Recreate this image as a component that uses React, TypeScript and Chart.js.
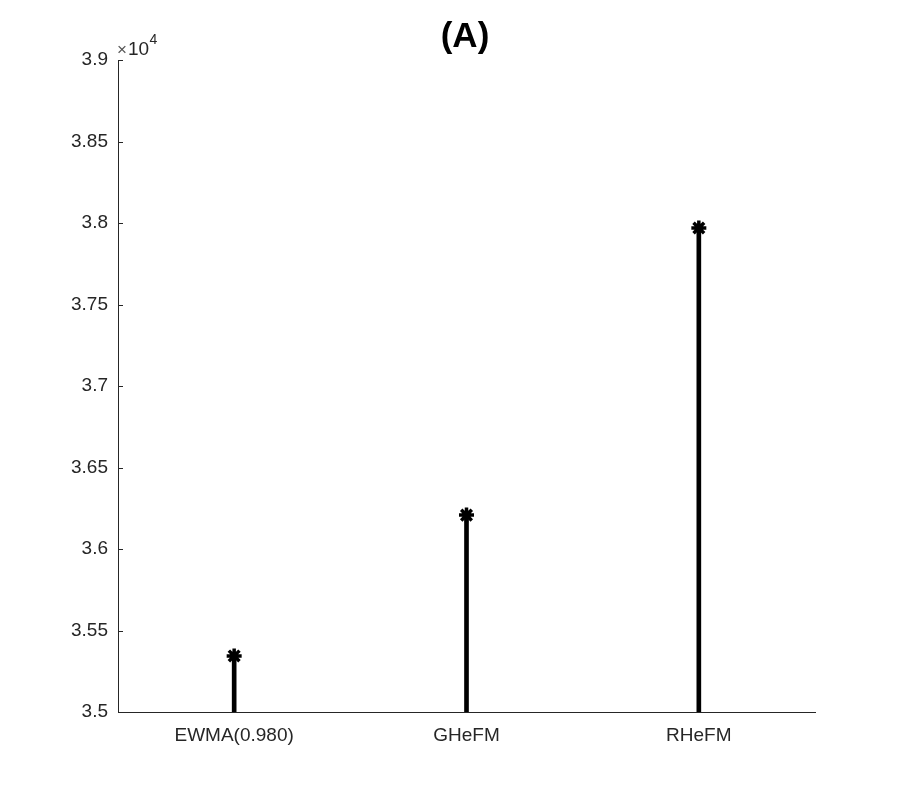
import React, { useEffect, useRef } from "react";
import { Chart, registerables } from "chart.js";

Chart.register(...registerables);

const categories = ["EWMA(0.980)", "GHeFM", "RHeFM"];
const positions = [1, 2, 3];
const values = [35344, 36208, 37969];
const yTicks = [35000, 35500, 36000, 36500, 37000, 37500, 38000, 38500, 39000];
const baseValue = 35000;
const titleText = "(A)";

const FONT = "'Liberation Sans', Arial, Helvetica, sans-serif";
const INK = "#262626";

export default function App() {
  const ref = useRef<HTMLCanvasElement | null>(null);

  useEffect(() => {
    const canvas = ref.current;
    if (!canvas) return;

    const overlay = {
      id: "matlabExtras",
      afterDraw(chart: any) {
        const ctx = chart.ctx;
        const area = chart.chartArea;
        const ys = chart.scales.y;
        ctx.save();
        // inward y ticks
        ctx.strokeStyle = INK;
        ctx.lineWidth = 1;
        ys.ticks.forEach((t: any) => {
          const py = Math.round(ys.getPixelForValue(t.value)) + 0.5;
          ctx.beginPath();
          ctx.moveTo(area.left, py);
          ctx.lineTo(area.left + 5, py);
          ctx.stroke();
        });
        // exponent label
        ctx.textBaseline = "alphabetic";
        ctx.textAlign = "left";
        let x = area.left - 1;
        ctx.font = `17px ${FONT}`;
        ctx.fillStyle = "#555";
        ctx.fillText("\u00d7", x, area.top - 5);
        x += ctx.measureText("\u00d7").width + 1;
        ctx.fillStyle = INK;
        ctx.font = `19px ${FONT}`;
        ctx.fillText("10", x, area.top - 5);
        x += ctx.measureText("10").width + 0.5;
        ctx.font = `14px ${FONT}`;
        ctx.fillText("4", x, area.top - 16);
        // title
        ctx.fillStyle = "#000";
        ctx.font = `bold 35px ${FONT}`;
        ctx.textAlign = "center";
        ctx.fillText(titleText, 465, 47);
        ctx.restore();
      },
    };

    const chart = new Chart(canvas, {
      type: "bar",
      data: {
        datasets: [
          {
            type: "bar",
            data: positions.map((p, i) => ({ x: p, y: [baseValue, values[i]] })) as any,
            backgroundColor: "#000",
            borderWidth: 0,
            barThickness: 4,
            grouped: false,
          } as any,
          {
            type: "scatter",
            data: positions.map((p, i) => ({ x: p, y: values[i] })),
            pointStyle: "star",
            radius: 7.5,
            borderWidth: 3.5,
            borderColor: "#000",
            backgroundColor: "#000",
          } as any,
        ],
      },
      plugins: [overlay],
      options: {
        animation: false,
        responsive: false,
        devicePixelRatio: 1,
        layout: { padding: { top: 60, right: 85, left: 0, bottom: 0 } },
        plugins: {
          legend: { display: false },
          tooltip: { enabled: false },
          title: { display: false },
        },
        scales: {
          x: {
            type: "linear",
            min: 0.5,
            max: 3.5,
            offset: false,
            grid: { display: false },
            border: { display: true, color: INK, width: 1 },
            afterBuildTicks: (s: any) => {
              s.ticks = positions.map((v) => ({ value: v }));
            },
            afterFit: (s: any) => {
              s.height = 88;
            },
            ticks: {
              color: INK,
              font: { size: 19, family: FONT },
              padding: 4,
              maxRotation: 0,
              autoSkip: false,
              callback: (v: any) => {
                const i = positions.indexOf(Number(v));
                return i >= 0 ? categories[i] : "";
              },
            },
          },
          y: {
            type: "linear",
            min: 35000,
            max: 39000,
            grid: { display: false },
            border: { display: true, color: INK, width: 1 },
            afterBuildTicks: (s: any) => {
              s.ticks = yTicks.map((v) => ({ value: v }));
            },
            afterFit: (s: any) => {
              s.width = 118;
            },
            ticks: {
              color: INK,
              font: { size: 19, family: FONT },
              padding: 2,
              callback: (v: any) => String(Number(v) / 10000),
            },
          },
        },
      } as any,
    });

    return () => chart.destroy();
  }, []);

  return (
    <div style={{ position: "fixed", left: 0, top: 0, width: 900, height: 800, background: "#fff" }}>
      <canvas ref={ref} width={900} height={800} style={{ width: 900, height: 800 }} />
    </div>
  );
}
